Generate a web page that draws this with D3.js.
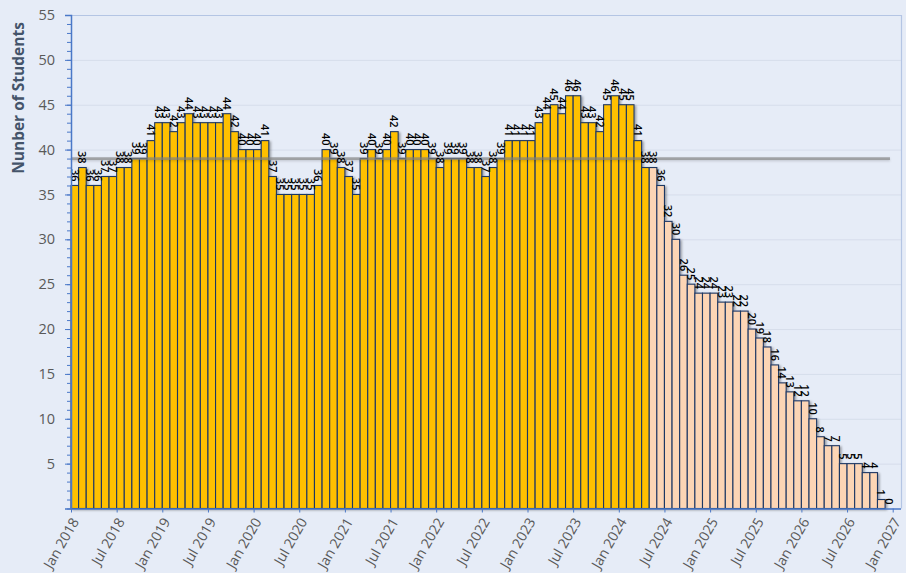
<!DOCTYPE html>
<html>
<head>
<meta charset="utf-8">
<script src="https://cdn.jsdelivr.net/npm/d3@7"></script>
<style>
  html, body { margin: 0; padding: 0; background: #E6ECF7; }
  svg { display: block; }
</style>
</head>
<body>
<svg id="chart" width="906" height="573"></svg>
<script>
// ---- Data ----
const startYear = 2018;
const actualStudents = [
  36, 38, 36, 36, 37, 37, 38, 38, 39, 39, 41, 43,
  43, 42, 43, 44, 43, 43, 43, 43, 44, 42, 40, 40,
  40, 41, 37, 35, 35, 35, 35, 35, 36, 40, 39, 38,
  37, 35, 39, 40, 39, 40, 42, 39, 40, 40, 40, 39,
  38, 39, 39, 39, 38, 38, 37, 38, 39, 41, 41, 41,
  41, 43, 44, 45, 44, 46, 46, 43, 43, 42, 45, 46,
  45, 45, 41, 38
];
const projectedStudents = [
  38, 36, 32, 30, 26, 25, 24, 24,
  24, 23, 23, 22, 22, 20, 19, 18, 16, 14, 13, 12,
  12, 10, 8, 7, 7, 5, 5, 5, 4, 4, 1, 0
];
const averageStudents = 39;
const xTickLabels = [
  "Jan 2018", "Jul 2018", "Jan 2019", "Jul 2019", "Jan 2020", "Jul 2020",
  "Jan 2021", "Jul 2021", "Jan 2022", "Jul 2022", "Jan 2023", "Jul 2023",
  "Jan 2024", "Jul 2024", "Jan 2025", "Jul 2025", "Jan 2026", "Jul 2026", "Jan 2027"
];
const yTickValues = [5, 10, 15, 20, 25, 30, 35, 40, 45, 50, 55];
const yAxisTitle = "Nunber of Students";

(function () {
// ---- Build table ----
const rows = actualStudents.map((v, i) => ({ i, v, type: "actual" }))
  .concat(projectedStudents.map((v, j) => ({ i: actualStudents.length + j, v, type: "projected" })));
const nMonths = xTickLabels.length * 6 - 6; // 108

// ---- Layout ----
const svg = d3.select("#chart");
const mLeft = 71, mRight = 892.7, mTop = 15, mBottom = 508.5, plotRight = 901;
const x = d3.scaleLinear().domain([0, nMonths]).range([mLeft, mRight]);
const y = d3.scaleLinear().domain([0, 55]).range([mBottom, mTop]);

const defs = svg.append("defs");
const sh = defs.append("filter").attr("id", "shadow")
  .attr("x", "-5%").attr("y", "-5%").attr("width", "110%").attr("height", "110%");
sh.append("feDropShadow").attr("dx", 1.6).attr("dy", 1.2).attr("stdDeviation", 1.1)
  .attr("flood-color", "#000").attr("flood-opacity", 0.35);
const sh2 = defs.append("filter").attr("id", "lineShadow")
  .attr("filterUnits", "userSpaceOnUse")
  .attr("x", 0).attr("y", 0).attr("width", 906).attr("height", 573);
sh2.append("feDropShadow").attr("dx", 0).attr("dy", 1.2).attr("stdDeviation", 1.0)
  .attr("flood-color", "#000").attr("flood-opacity", 0.25);

// background
svg.append("rect").attr("width", 906).attr("height", 573).attr("fill", "#E6ECF7");

// gridlines
svg.append("g").selectAll("line").data(yTickValues).join("line")
  .attr("x1", mLeft).attr("x2", plotRight)
  .attr("y1", d => y(d) + 0.5).attr("y2", d => y(d) + 0.5)
  .attr("stroke", "#D6DDEB").attr("stroke-width", 1);

// plot border (top & right)
svg.append("path")
  .attr("d", `M${mLeft},${mTop + 0.5}H${plotRight + 0.5}V${mBottom}`)
  .attr("fill", "none").attr("stroke", "#B4C5E4").attr("stroke-width", 1.2);

// bars
const bw = x(1) - x(0);
svg.append("g").attr("filter", "url(#shadow)")
  .selectAll("rect").data(rows.filter(d => d.v > 0)).join("rect")
  .attr("x", d => x(d.i))
  .attr("y", d => y(d.v))
  .attr("width", bw)
  .attr("height", d => y(0) - y(d.v))
  .attr("fill", d => d.type === "actual" ? "#FFC000" : "#FCD5B5")
  .attr("stroke", "#1F3864")
  .attr("stroke-width", 1.1);

// average line
svg.append("line")
  .attr("x1", mLeft).attr("x2", 890)
  .attr("y1", y(averageStudents)).attr("y2", y(averageStudents))
  .attr("stroke", "#7F7F7F").attr("stroke-opacity", 0.65).attr("stroke-width", 2.8)
  .attr("filter", "url(#lineShadow)");

// data labels (rotated 90deg clockwise)
svg.append("g").selectAll("text").data(rows).join("text")
  .attr("transform", d => `translate(${x(d.i) + bw / 2},${y(d.v) - 4}) rotate(90)`)
  .attr("text-anchor", "end")
  .attr("dy", "0.36em")
  .attr("font-family", "'Open Sans', 'Liberation Sans', sans-serif")
  .attr("font-size", 11)
  .attr("font-weight", 600)
  .attr("fill", "#000")
  .text(d => d.v);

// y axis
const yAxisMinor = d3.axisLeft(y).tickValues(d3.range(0, 56, 1)).tickSize(4).tickFormat("");
svg.append("g").attr("transform", `translate(${mLeft},0)`).call(yAxisMinor)
  .call(g => g.select(".domain").remove())
  .call(g => g.selectAll("line").attr("stroke", "#4A78C8"));
const yAxis = d3.axisLeft(y).tickValues(yTickValues).tickSize(6).tickPadding(10);
svg.append("g").attr("transform", `translate(${mLeft},0)`).call(yAxis)
  .call(g => g.select(".domain").attr("stroke", "#4A78C8").attr("stroke-width", 1.5))
  .call(g => g.selectAll("line").attr("stroke", "#4A78C8"))
  .call(g => g.selectAll("text")
    .attr("font-family", "'Open Sans', sans-serif")
    .attr("font-size", 14.5).attr("fill", "#595959"));

// x axis
const xAxis = d3.axisBottom(x)
  .tickValues(d3.range(0, nMonths + 1, 6))
  .tickFormat((d, k) => xTickLabels[k])
  .tickSize(4);
const gx = svg.append("g").attr("transform", `translate(0,${mBottom})`).call(xAxis);
gx.select(".domain").attr("d", `M${mLeft},0.5H${plotRight}`).attr("stroke", "#4A78C8").attr("stroke-width", 1.5);
gx.selectAll("line").attr("stroke", "#4A78C8");
gx.selectAll("text")
  .attr("font-family", "'Open Sans', sans-serif")
  .attr("font-size", 14).attr("fill", "#595959")
  .attr("text-anchor", "end")
  .attr("dy", 0).attr("y", 0)
  .attr("transform", "translate(8,13) rotate(-60)");

// y axis title
svg.append("text")
  .attr("transform", "translate(24,98) rotate(-90)")
  .attr("text-anchor", "middle")
  .attr("font-family", "'Open Sans', sans-serif")
  .attr("font-weight", "bold")
  .attr("font-size", 15.5)
  .attr("fill", "#44546A")
  .text(yAxisTitle);
})();
</script>
</body>
</html>
